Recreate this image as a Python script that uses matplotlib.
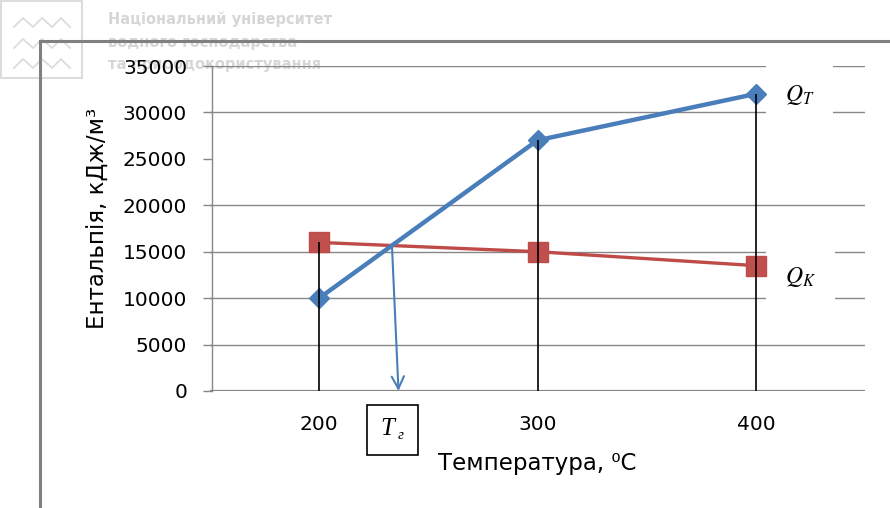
import matplotlib
matplotlib.use('Agg')
from matplotlib import pyplot as plt
from matplotlib.lines import Line2D
from matplotlib.patches import Rectangle
import matplotlib.transforms as mtransforms

# data
temps = [200, 300, 400]
q_t = [10000, 27000, 32000]
q_k = [16000, 15000, 13500]
y_ticks = [0, 5000, 10000, 15000, 20000, 25000, 30000, 35000]

blue = '#4A7EBB'
red = '#BE4B48'
grid_color = '#878787'

plt.rcParams['font.family'] = ['DejaVu Sans']
plt.rcParams['mathtext.fontset'] = 'stix'

W, H = 890, 508
fig = plt.figure(figsize=(W / 100, H / 100), dpi=100)
ax = fig.add_axes([210 / W, 1 - 391 / H, 655 / W, 325 / H])
ax.patch.set_visible(False)

# watermark logo + text (behind everything)
fig.add_artist(Rectangle((1 / W, 1 - 78 / H), 81 / W, 77 / H, transform=fig.transFigure,
                         fill=False, edgecolor='#dcdcdc', lw=1.5, zorder=-5))
for row in [27, 48, 68]:
    xs = [14, 23, 33, 42, 52, 61, 70]
    ys = [row, row - 9, row, row - 9, row, row - 9, row]
    fig.add_artist(Line2D([x / W for x in xs], [1 - y / H for y in ys], transform=fig.transFigure,
                          color='#dcdcdc', lw=1.3, zorder=-5))
wm_lines = ['Національний університет', 'водного господарства', 'та природокористування']
for i, txt in enumerate(wm_lines):
    fig.text(108 / W, 1 - (19 + 23 * i) / H, txt, ha='left', va='center', fontsize=10.5,
             fontweight='bold', color='#d6d6d6', zorder=-5)

# outer frame (cropped box)
fig.add_artist(Line2D([40 / W, 1], [1 - 41 / H] * 2, transform=fig.transFigure, color='#808080', lw=2.2))
fig.add_artist(Line2D([40 / W] * 2, [0, 1 - 41 / H], transform=fig.transFigure, color='#808080', lw=2.2))

ax.set_xlim(150, 450)
ax.set_ylim(0, 35000)

# gridlines (the 25000 one is missing in the original)
for v in y_ticks:
    if v == 25000:
        continue
    ax.axhline(v, color=grid_color, lw=1.6 if v == 0 else 1.0, zorder=1)

# drop lines
ax.vlines(temps, 0, [max(a, b) for a, b in zip(q_t, q_k)], color='black', lw=1.2, zorder=6)

ax.plot(temps, q_k, color=red, lw=2.4, marker='s', ms=14, mfc='#C0504D', mec=red, zorder=4)
ax.plot(temps, q_t, color=blue, lw=3.2, marker='D', ms=10, mfc=blue, mec=blue, zorder=5)

# intersection of the first segments -> T_g
slope_t = (q_t[1] - q_t[0]) / (temps[1] - temps[0])
slope_k = (q_k[1] - q_k[0]) / (temps[1] - temps[0])
t_g = temps[0] + (q_k[0] - q_t[0]) / (slope_t - slope_k)
q_g = q_t[0] + slope_t * (t_g - temps[0])

ax.annotate('', xy=(t_g + 3, 0), xytext=(t_g, q_g),
            arrowprops=dict(arrowstyle='->', color=blue, lw=1.5, mutation_scale=22,
                            shrinkA=0, shrinkB=0), zorder=7)

blend = mtransforms.blended_transform_factory(ax.transData, ax.transAxes)
ax.add_patch(Rectangle((t_g - 11.5, -0.197), 23.4, 0.154, transform=blend, fill=False,
                       edgecolor='black', lw=1.2, clip_on=False))
ax.annotate('T', xy=(t_g, -0.12), xycoords=blend, xytext=(-3, 1), textcoords='offset points',
            ha='center', va='center', fontsize=18, family='Liberation Serif', style='italic')
ax.annotate('г', xy=(t_g, -0.12), xycoords=blend, xytext=(6, -4), textcoords='offset points',
            ha='center', va='center', fontsize=11, family='Liberation Serif', style='italic')

# series labels with white boxes that break the gridlines
box = dict(boxstyle='square,pad=0.8', facecolor='white', edgecolor='none')
ax.annotate('$Q_T$', xy=(temps[-1], q_t[-1]), xytext=(21, -1), textcoords='offset points',
            ha='left', va='center', fontsize=17, bbox=box, zorder=3)
ax.annotate('$Q_K$', xy=(temps[-1], q_k[-1]), xytext=(21, -8), textcoords='offset points',
            ha='left', va='center', fontsize=17, bbox=box, zorder=3)

ax.set_xticks(temps)
ax.set_yticks(y_ticks)
ax.set_yticklabels([str(v) for v in y_ticks])
ax.tick_params(axis='x', length=0, pad=17.5, labelsize=14.5)
ax.tick_params(axis='y', length=6.5, width=1, color=grid_color, pad=11.5, labelsize=14.5)
for lbl in ax.get_yticklabels():
    lbl.set_bbox(dict(facecolor='white', edgecolor='none', pad=1))

for s in ['top', 'right', 'bottom']:
    ax.spines[s].set_visible(False)
ax.spines['left'].set_color(grid_color)
ax.spines['left'].set_linewidth(1.0)
ax.spines['left'].set_position(('data', 151))

ax.set_xlabel('Температура, ⁰С', fontsize=16.5)
ax.xaxis.set_label_coords(0.5, -0.188)
ax.xaxis.label.set_va('top')
ax.set_ylabel('Ентальпія, кДж/м³', fontsize=16.5)
ax.yaxis.set_label_coords(-0.153, 0.53)

fig.savefig('out.png', dpi=100)
